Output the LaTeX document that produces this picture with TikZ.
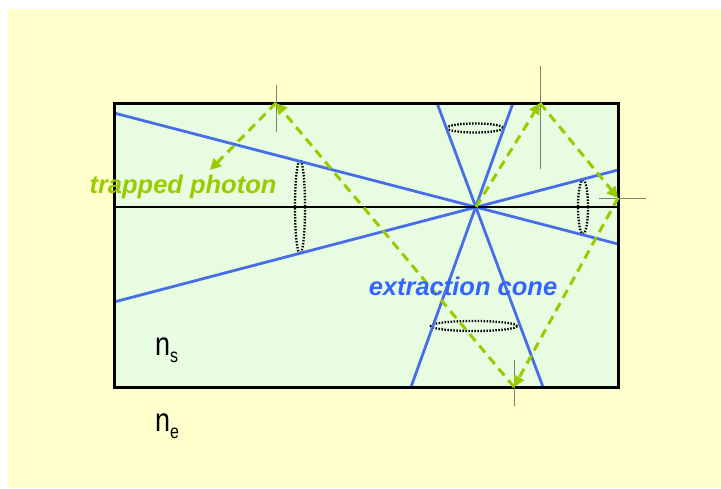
\documentclass[tikz,border=0pt]{standalone}
\usepackage{fontspec}
\setmainfont{Liberation Sans}
\usetikzlibrary{arrows.meta}
\definecolor{bgyellow}{RGB}{255,255,204}
\definecolor{boxgreen}{RGB}{232,252,226}
\definecolor{photongreen}{RGB}{153,204,0}
\definecolor{conetext}{RGB}{51,102,255}
\definecolor{coneline}{RGB}{70,110,230}
\definecolor{normalgray}{RGB}{128,128,110}
\tikzset{
  coneray/.style={draw=coneline, line width=2.8pt},
  photonray/.style={draw=photongreen, line width=3pt, dash pattern=on 9pt off 6pt,
    -{Triangle[length=11pt,width=11pt,fill=photongreen]}},
  normalline/.style={draw=normalgray, line width=1pt},
  dotring/.style={draw=black, line width=2.3pt, dash pattern=on 1.5pt off 1.5pt},
  biglabel/.style={font=\fontsize{25.5}{28}\selectfont\bfseries\itshape, inner sep=0pt, anchor=base},
  idxlabel/.style={font=\fontsize{27}{30}\selectfont, inner sep=0pt, anchor=base west, yscale=1.22, transform shape}
}
\begin{document}
\begin{tikzpicture}[x=1pt,y=-1pt]
\useasboundingbox (0,0) rectangle (721,488);
\fill[white] (0,0) rectangle (721,488);
\fill[bgyellow] (8,9) rectangle (721,488);
% slab
\coordinate (TL) at (114,103);
\coordinate (BR) at (618,387);
\fill[boxgreen] (TL) rectangle (BR);
% cone apex and ray ends
\coordinate (C) at (476,207);
\coordinate (L1) at (114,113);
\coordinate (R1) at (618,244);
\coordinate (L2) at (114,302);
\coordinate (R2) at (618,170);
\coordinate (T1) at (437,103);
\coordinate (B1) at (543,387);
\coordinate (T2) at (513,103);
\coordinate (B2) at (411,387);
\coordinate (ML) at (114,207);
\coordinate (MR) at (618,207);
% dotted rings
\draw[dotring] (300,207) ellipse [x radius=5, y radius=47];
\draw[dotring] (583,207) ellipse [x radius=5, y radius=27];
\draw[dotring] (475,128) ellipse [x radius=28, y radius=4.5];
\draw[dotring] (474,326) ellipse [x radius=43, y radius=5];
% cone rays
\draw[coneray] (L1) -- (R1);
\draw[coneray] (L2) -- (R2);
\draw[coneray] (T1) -- (B1);
\draw[coneray] (T2) -- (B2);
% middle line
\draw[black, line width=2.4pt] (ML) -- (MR);
% slab border
\draw[black, line width=3pt] (TL) rectangle (BR);
% reflection points
\coordinate (P1) at (540,103);
\coordinate (P2) at (618,198);
\coordinate (P3) at (514,387);
\coordinate (P4) at (276,103);
\coordinate (P5) at (210,170);
% normals
\coordinate (N1a) at (540,66); \coordinate (N1b) at (540,169);
\coordinate (N2a) at (599,198); \coordinate (N2b) at (646,198);
\coordinate (N3a) at (514,360); \coordinate (N3b) at (514,406);
\coordinate (N4a) at (276,85); \coordinate (N4b) at (276,132);
\draw[normalline] (N1a) -- (N1b);
\draw[normalline] (N2a) -- (N2b);
\draw[normalline] (N3a) -- (N3b);
\draw[normalline] (N4a) -- (N4b);
% trapped photon path
\draw[photonray] (C) -- (P1);
\draw[photonray] (P1) -- (P2);
\draw[photonray] (P2) -- (P3);
\draw[photonray] (P3) -- (P4);
\draw[photonray] (P4) -- (P5);
% labels
\node[biglabel, text=photongreen] (tp) at (183,193) {trapped photon};
\node[biglabel, text=conetext] (ec) at (463,295) {extraction cone};
\node[idxlabel] (ns) at (155,355) {n\raisebox{-0.45ex}{\fontsize{16}{20}\selectfont s}};
\node[idxlabel] (ne) at (155,431) {n\raisebox{-0.45ex}{\fontsize{16}{20}\selectfont e}};
\end{tikzpicture}
\end{document}
